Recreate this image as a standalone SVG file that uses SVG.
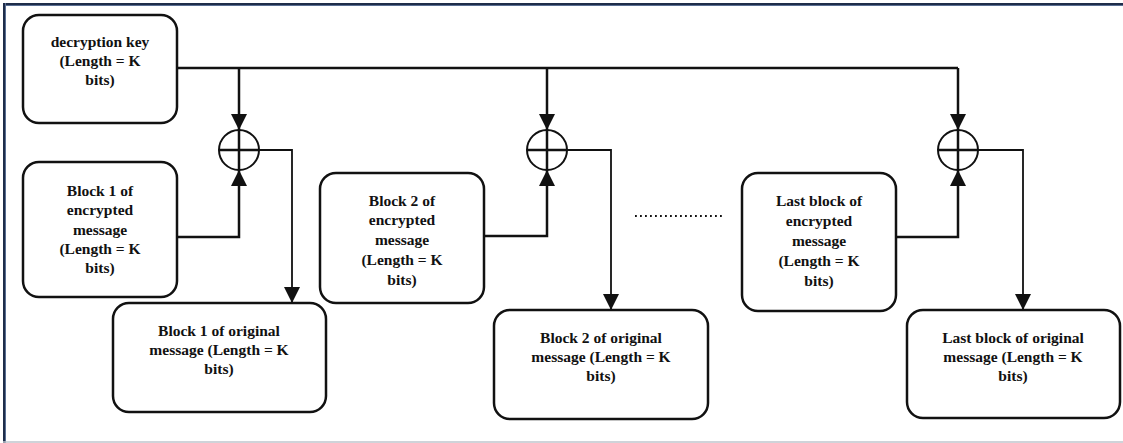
<svg xmlns="http://www.w3.org/2000/svg" width="1123" height="443" viewBox="0 0 1123 443">
<defs>
<style>
.box{fill:#fff;stroke:#111;stroke-width:2.5}
text{font-family:'Liberation Serif','Times New Roman',Times,serif;font-weight:bold;font-size:15.5px;fill:#111;text-anchor:middle}
.ln{fill:none;stroke:#111;stroke-width:2.5}
.ln2{fill:none;stroke:#111;stroke-width:1.8}
.xor{fill:#fff;stroke:#111;stroke-width:2}
</style>
<marker id="ah" viewBox="0 0 16 16" refX="16" refY="8" markerWidth="16" markerHeight="16" markerUnits="userSpaceOnUse" orient="auto">
<path d="M0,0 L16,8 L0,16 Z" fill="#111"/>
</marker>
</defs>
<rect width="1123" height="443" fill="#fff"/>
<line x1="3" y1="4" x2="1123" y2="4" stroke="#1f2d4a" stroke-width="2"/>
<line x1="3" y1="5.5" x2="1123" y2="5.5" stroke="#5a6f93" stroke-width="1"/>
<line x1="4" y1="3" x2="4" y2="443" stroke="#1f2d4a" stroke-width="2"/>
<line x1="5.5" y1="3" x2="5.5" y2="443" stroke="#5a6f93" stroke-width="1"/>
<line x1="3" y1="442" x2="1123" y2="442" stroke="#bfc4cd" stroke-width="1.5"/>

<g id="connectors">
<path class="ln" d="M177,68 H958"/>
<path class="ln" d="M239,68 V130" marker-end="url(#ah)"/>
<path class="ln" d="M547,68 V130" marker-end="url(#ah)"/>
<path class="ln" d="M958,68 V130" marker-end="url(#ah)"/>
<path class="ln" d="M177,237 H239 V170" marker-end="url(#ah)"/>
<path class="ln" d="M484,236 H547 V170" marker-end="url(#ah)"/>
<path class="ln" d="M896,237 H958 V170" marker-end="url(#ah)"/>
<path class="ln2" d="M259,150 H292 V303" marker-end="url(#ah)"/>
<path class="ln2" d="M567,150 H611 V310" marker-end="url(#ah)"/>
<path class="ln2" d="M978,150 H1023 V310" marker-end="url(#ah)"/>
<line x1="635" y1="216" x2="723" y2="216" stroke="#111" stroke-width="1.8" stroke-dasharray="1.8,3.2"/>
</g>

<g id="xor1"><circle class="xor" cx="239" cy="150" r="20"/><path class="ln" d="M219,150 H259 M239,130 V170"/></g>
<g id="xor2"><circle class="xor" cx="547" cy="150" r="20"/><path class="ln" d="M527,150 H567 M547,130 V170"/></g>
<g id="xor3"><circle class="xor" cx="958" cy="150" r="20"/><path class="ln" d="M938,150 H978 M958,130 V170"/></g>

<g id="key">
<rect class="box" x="23" y="15" width="154" height="108" rx="16"/>
<text x="100" y="47">decryption key</text>
<text x="100" y="66">(Length = K</text>
<text x="100" y="85">bits)</text>
</g>

<g id="enc1">
<rect class="box" x="23" y="162" width="154" height="135" rx="16"/>
<text x="100" y="196">Block 1 of</text>
<text x="100" y="215">encrypted</text>
<text x="100" y="235">message</text>
<text x="100" y="254">(Length = K</text>
<text x="100" y="273">bits)</text>
</g>

<g id="orig1">
<rect class="box" x="113" y="303" width="213" height="109" rx="16"/>
<text x="219" y="336">Block 1 of original</text>
<text x="219" y="355">message (Length = K</text>
<text x="219" y="374">bits)</text>
</g>

<g id="enc2">
<rect class="box" x="320" y="173" width="164" height="130" rx="16"/>
<text x="402" y="206">Block 2 of</text>
<text x="402" y="225">encrypted</text>
<text x="402" y="245">message</text>
<text x="402" y="265">(Length = K</text>
<text x="402" y="285">bits)</text>
</g>

<g id="orig2">
<rect class="box" x="494" y="310" width="214" height="109" rx="16"/>
<text x="601" y="343">Block 2 of original</text>
<text x="601" y="362">message (Length = K</text>
<text x="601" y="381">bits)</text>
</g>

<g id="encLast">
<rect class="box" x="742" y="173" width="154" height="138" rx="16"/>
<text x="819" y="206">Last block of</text>
<text x="819" y="226">encrypted</text>
<text x="819" y="246">message</text>
<text x="819" y="266">(Length = K</text>
<text x="819" y="286">bits)</text>
</g>

<g id="origLast">
<rect class="box" x="907" y="310" width="213" height="108" rx="16"/>
<text x="1013" y="343">Last block of original</text>
<text x="1013" y="362">message (Length = K</text>
<text x="1013" y="381">bits)</text>
</g>
</svg>
